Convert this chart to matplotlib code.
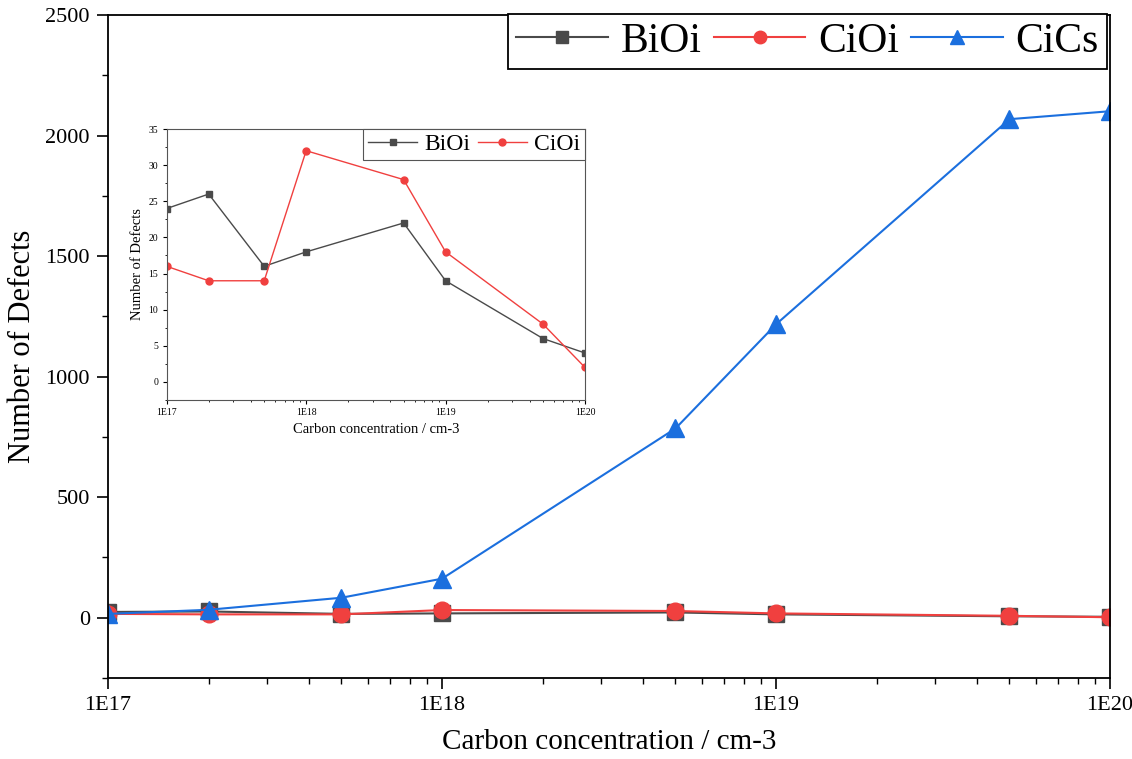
import numpy as np
import matplotlib
matplotlib.use("Agg")
import matplotlib.pyplot as plt

plt.rcParams['font.family'] = ['Liberation Serif', 'DejaVu Serif']

# carbon concentration (cm-3) and defect counts
conc = [1e17, 2e17, 5e17, 1e18, 5e18, 1e19, 5e19, 1e20]
bioi = [24, 26, 16, 18, 22, 14, 6, 4]
cioi = [16, 14, 14, 32, 28, 18, 8, 2]
cics = [16, 33, 83, 162, 785, 1217, 2068, 2101]

xticks = [1e17, 1e18, 1e19, 1e20]
xticklabels = ["1E17", "1E18", "1E19", "1E20"]

c_bi = '#4a4a4a'
c_ci = '#f0403f'
c_cs = '#1b6fde'

fig = plt.figure(figsize=(11.32, 7.59), dpi=100)
ax = fig.add_axes([0.0954, 0.1067, 0.8852, 0.8735])

ax.plot(conc, bioi, color=c_bi, marker='s', ms=11, lw=1.5, label='BiOi')
ax.plot(conc, cioi, color=c_ci, marker='o', ms=12, lw=1.5, label='CiOi')
ax.plot(conc, cics, color=c_cs, marker='^', ms=12.5, lw=1.5, label='CiCs')

ax.set_xscale('log')
ax.set_xlim(1e17, 1e20)
ax.set_ylim(-250, 2500)
ax.set_xticks(xticks)
ax.set_xticklabels(xticklabels)
ax.set_yticks(np.arange(0, 2501, 500))
ax.set_yticks(np.arange(-250, 2500, 250), minor=True)
ax.tick_params(which='major', direction='out', length=8, width=1.2, labelsize=16, pad=5)
ax.tick_params(which='minor', direction='out', length=4, width=1.0)
for s in ax.spines.values():
    s.set_linewidth(1.3)
ax.set_xlabel('Carbon concentration / cm-3', fontsize=21, labelpad=10)
ax.set_ylabel('Number of Defects', fontsize=22, labelpad=6)

leg = ax.legend(loc='upper right', bbox_to_anchor=(0.997, 1.002), borderaxespad=0,
                ncol=3, fontsize=30, markerscale=0.75, handlelength=2.2,
                handletextpad=0.3, columnspacing=0.3, fancybox=False,
                framealpha=1, edgecolor='black', borderpad=0.2)
leg.get_frame().set_linewidth(1.3)

# inset
ins = fig.add_axes([0.1473, 0.473, 0.3695, 0.357])
ins.plot(conc, bioi, color=c_bi, marker='s', ms=4.5, lw=1.0, label='BiOi')
ins.plot(conc, cioi, color=c_ci, marker='o', ms=5, lw=1.0, label='CiOi')
ins.set_xscale('log')
ins.set_xlim(1e17, 1e20)
ins.set_ylim(-2.5, 35)
ins.set_xticks(xticks)
ins.set_xticklabels(xticklabels)
ins.set_yticks(np.arange(0, 36, 5))
ins.set_yticks(np.arange(-2.5, 35, 2.5), minor=True)
ins.tick_params(which='major', direction='out', length=3, width=0.8, labelsize=7, pad=3)
ins.tick_params(which='minor', direction='out', length=1.5, width=0.6)
for s in ins.spines.values():
    s.set_linewidth(0.8)
    s.set_color('#555555')
ins.set_xlabel('Carbon concentration / cm-3', fontsize=10.5, labelpad=4)
ins.set_ylabel('Number of Defects', fontsize=10.5, labelpad=3)
ileg = ins.legend(loc='upper right', bbox_to_anchor=(1.0, 1.0), borderaxespad=0,
                  ncol=2, fontsize=17, handlelength=2.1, handletextpad=0.3,
                  columnspacing=0.3, fancybox=False, framealpha=1,
                  edgecolor='#555555', borderpad=0.2)
ileg.get_frame().set_linewidth(0.8)

fig.savefig('out.png', dpi=100)
